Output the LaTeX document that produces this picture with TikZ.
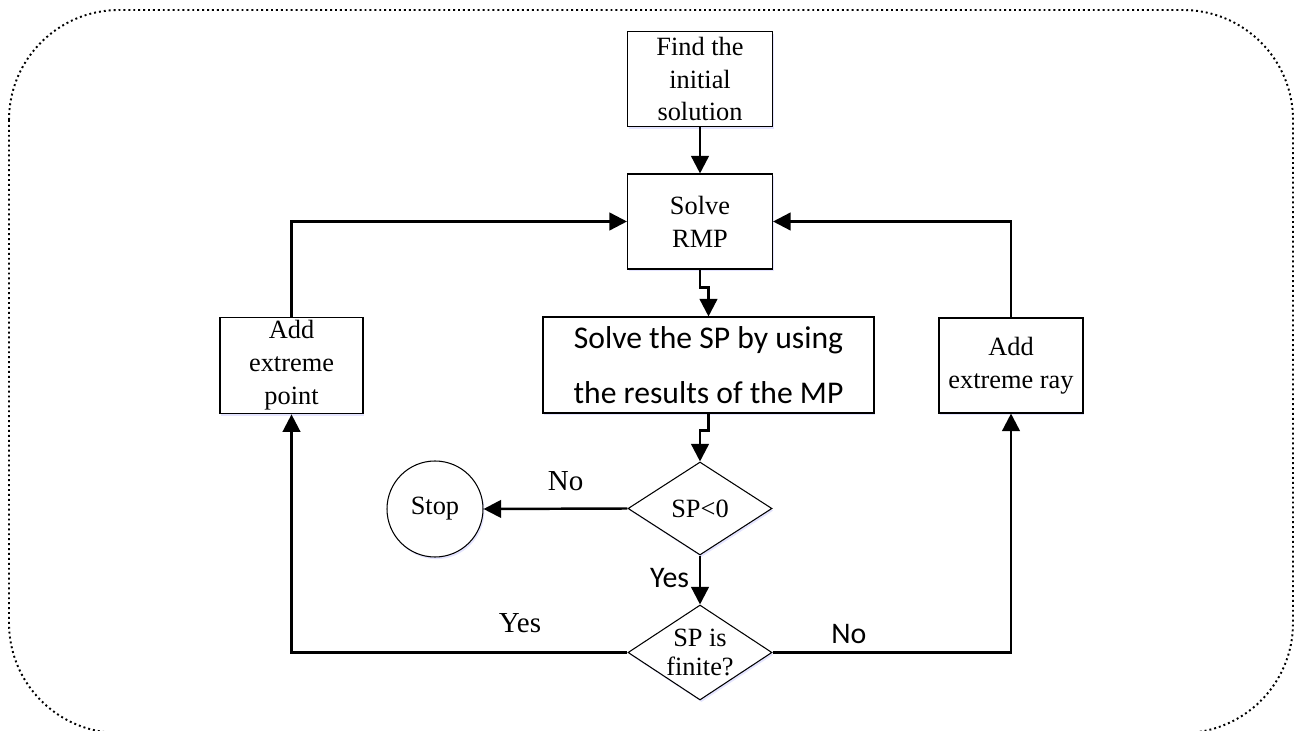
\documentclass[tikz,border=0pt]{standalone}
\usepackage{fontspec}
\setmainfont{Liberation Serif}
\setsansfont{Carlito}
\usepackage{tikz}
\usetikzlibrary{arrows.meta,positioning,calc,shapes.geometric,shadows}

\begin{document}
\begin{tikzpicture}[
  glow/.style={drop shadow={fill=blue!30, opacity=0.35, shadow xshift=0.8pt, shadow yshift=-1.2pt}},
  box/.style={draw, line width=0.6pt, fill=white, glow, minimum width=2.9cm, minimum height=1.9cm,
              font=\fontsize{15}{18.7}\selectfont, align=center, inner sep=2pt},
  decision/.style={diamond, draw, line width=0.6pt, fill=white, glow, minimum width=2.88cm,
              minimum height=1.88cm, inner sep=-5pt, font=\fontsize{15}{17}\selectfont, align=center},
  terminal/.style={circle, draw, line width=0.6pt, fill=white, glow, minimum size=1.92cm,
              font=\fontsize{15}{18}\selectfont},
  arrow/.style={-{Triangle[length=10pt,width=10pt]}, line width=1.4pt},
  lbl/.style={font=\fontsize{16.5}{18}\selectfont, inner sep=0.5pt},
  slbl/.style={font=\sffamily\fontsize{17}{19}\selectfont, inner sep=0.5pt}
]
  \useasboundingbox (0,0) rectangle (25.9,-14.62);
  % frame
  \draw[line width=1.1pt, dash pattern=on 1.1pt off 1.7pt, rounded corners=2.2cm]
    (0.18,-0.2) rectangle (25.86,-14.66);

  % Nodes
  \node[box] (init) at (14,-1.58) {Find the\\initial\\solution};
  \node[box] (rmp) at (14,-4.43) {Solve\\RMP};
  \node[box, minimum width=6.62cm, minimum height=1.92cm,
        font=\sffamily\fontsize{18}{31}\selectfont] (sp) at (14.17,-7.3)
        {Solve the SP by using\\the results of the MP};
  \node[box, minimum width=2.86cm] (addpt) at (5.83,-7.31) {Add\\extreme\\point};
  \node[box, minimum width=2.88cm] (addray) at (20.22,-7.31) {Add\\extreme ray};
  \node[decision, minimum height=1.86cm] (neg) at (14,-10.17) {SP<0};
  \node[decision, minimum height=1.9cm] (fin) at (14,-13.05) {SP is\\finite?};
  \node[terminal] (stop) at (8.7,-10.18) {Stop};

  % Arrows
  \draw[arrow] (init) -- (rmp);
  \draw[arrow] (rmp.south) -- ++(0,-0.36) -| (sp.north);
  \draw[arrow] (sp.south) -- ++(0,-0.34) -| (neg.north);
  \draw[arrow] (neg.west) -- node[lbl, pos=0.43, above=9pt] {No} (stop.east);
  \draw[arrow] (neg.south) -- node[slbl, pos=0.45, left=5pt] {Yes} (fin.north);
  \draw[arrow] (fin.west) -| node[lbl, pos=0.16, above=10pt] {Yes} (addpt.south);
  \draw[arrow] (fin.east) -| node[slbl, pos=0.16, above=4pt] {No} (addray.south);
  \draw[arrow] (addpt.north) |- (rmp.west);
  \draw[arrow] (addray.north) |- (rmp.east);
\end{tikzpicture}
\end{document}
